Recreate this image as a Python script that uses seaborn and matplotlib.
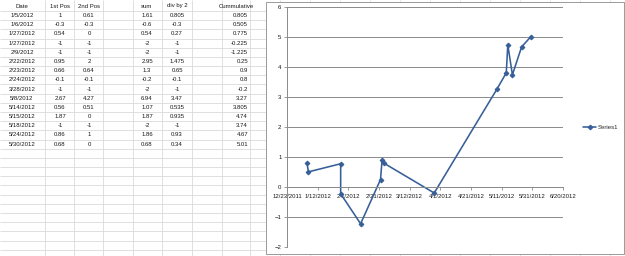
import pandas as pd
import matplotlib
matplotlib.use("Agg")
import matplotlib.pyplot as plt
import matplotlib.dates as mdates
from matplotlib.patches import Rectangle
import seaborn as sns

# spreadsheet values
headers = ["Date", "1st Pos", "2nd Pos", "sum", "div by 2", "Cummulative"]
dates = ["1/5/2012", "1/6/2012", "1/27/2012", "1/27/2012", "2/9/2012", "2/22/2012",
         "2/23/2012", "2/24/2012", "3/28/2012", "5/8/2012", "5/14/2012", "5/15/2012",
         "5/18/2012", "5/24/2012", "5/30/2012"]
pos1 = [1, -0.3, 0.54, -1, -1, 0.95, 0.66, -0.1, -1, 2.67, 0.56, 1.87, -1, 0.86, 0.68]
pos2 = [0.61, -0.3, 0, -1, -1, 2, 0.64, -0.1, -1, 4.27, 0.51, 0, -1, 1, 0]
sums = [1.61, -0.6, 0.54, -2, -2, 2.95, 1.3, -0.2, -2, 6.94, 1.07, 1.87, -2, 1.86, 0.68]
half = [0.805, -0.3, 0.27, -1, -1, 1.475, 0.65, -0.1, -1, 3.47, 0.535, 0.935, -1, 0.93, 0.34]
cumul = [0.805, 0.505, 0.775, -0.225, -1.225, 0.25, 0.9, 0.8, -0.2, 3.27, 3.805, 4.74,
         3.74, 4.67, 5.01]

x_start, x_end = "2011-12-23", "2012-06-20"
y_ticks = list(range(-2, 7))

df = pd.DataFrame({"Date": pd.to_datetime(dates, format="%m/%d/%Y"), "Cumul": cumul})

sns.set_theme(style="white")
plt.rcParams["font.family"] = ["Liberation Sans", "DejaVu Sans"]
fs = 4.3
txt_col = "#1a1a1a"
line_col = "#365f98"

fig = plt.figure(figsize=(6.25, 2.56), dpi=100)

# --- sheet background ---
bg = fig.add_axes([0, 0, 1, 1])
bg.set_xlim(0, 625)
bg.set_ylim(256, 0)
bg.axis("off")
col_edges = [45, 74, 103, 133, 162, 192, 222, 250, 280, 310, 340, 370, 400, 430,
             460, 490, 520, 550, 580, 610]
for cx in col_edges:
    bg.vlines(cx, 0, 256, color="#dadada", lw=0.6)
row_h = 9.18
y = 11.0
while y < 256:
    bg.hlines(y, 0, 625, color="#dadada", lw=0.6)
    y += row_h

centers = [22, 60, 89, 147, 177, 236]
for cx, h in zip(centers, headers):
    bg.text(cx, 6, h, ha="center", va="center", fontsize=fs, color=txt_col)
for i in range(len(dates)):
    ry = 15.6 + row_h * i
    bg.text(22, ry, dates[i], ha="center", va="center", fontsize=fs, color=txt_col)
    bg.text(60, ry, f"{pos1[i]:g}", ha="center", va="center", fontsize=fs, color=txt_col)
    bg.text(89, ry, f"{pos2[i]:g}", ha="center", va="center", fontsize=fs, color=txt_col)
    bg.text(147, ry, f"{sums[i]:g}", ha="center", va="center", fontsize=fs, color=txt_col)
    bg.text(177, ry, f"{half[i]:g}", ha="center", va="center", fontsize=fs, color=txt_col)
    bg.text(248, ry, f"{cumul[i]:g}", ha="right", va="center", fontsize=fs, color=txt_col)

# chart frame (drawn over the cell grid)
bg.add_patch(Rectangle((265.5, 2), 358.5, 252, facecolor="white", edgecolor="#9a9a9a",
                       lw=0.7, zorder=5))

# --- chart ---
ax = fig.add_axes([287 / 625, 9 / 256, 276 / 625, 240 / 256])
ax.set_facecolor("none")
sns.lineplot(data=df, x="Date", y="Cumul", sort=False, estimator=None, marker="D",
             markersize=2.4, color=line_col, lw=1.15, markeredgecolor=line_col,
             label="Series1", ax=ax)

ax.set_xlim(pd.Timestamp(x_start), pd.Timestamp(x_end))
ax.set_ylim(-2, 6)
ax.set_xticks(pd.date_range(x_start, x_end, freq="20D"))
ax.xaxis.set_major_formatter(mdates.DateFormatter("%-m/%-d/%Y"))
ax.set_yticks(y_ticks)
ax.yaxis.grid(True, color="#8a8a8a", lw=0.7)
ax.set_axisbelow(True)
ax.set_xlabel("")
ax.set_ylabel("")

for s in ["top", "right"]:
    ax.spines[s].set_visible(False)
ax.spines["bottom"].set_position(("data", 0))
ax.spines["bottom"].set_color("#8a8a8a")
ax.spines["bottom"].set_linewidth(0.7)
ax.spines["left"].set_color("#8a8a8a")
ax.spines["left"].set_linewidth(0.7)
ax.tick_params(axis="both", labelsize=fs, colors="#8a8a8a", labelcolor=txt_col,
               length=2.5, width=0.6, pad=1.5, direction="out")
ax.tick_params(axis="x", pad=2.5)
ax.tick_params(bottom=True, left=True)

ax.legend(loc="center left", bbox_to_anchor=(580 / 625, 1 - 127 / 256),
          bbox_transform=fig.transFigure, frameon=False, fontsize=fs,
          handlelength=2.2, handletextpad=0.2, borderpad=0)

fig.savefig("out.png", dpi=100)
